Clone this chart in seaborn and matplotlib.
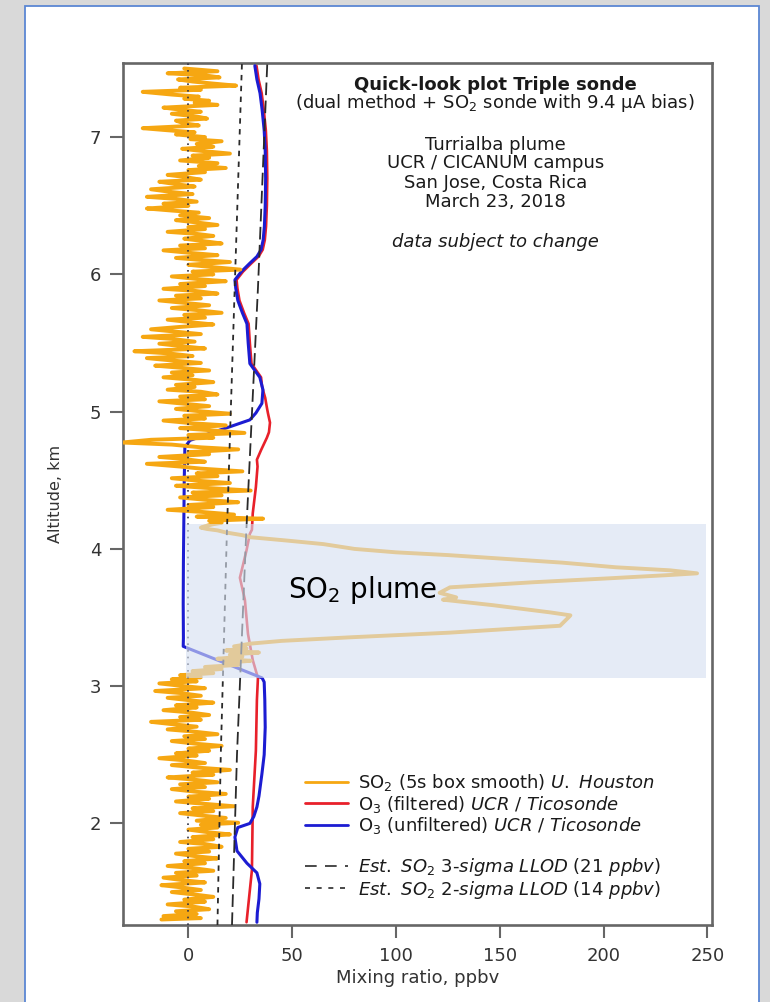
import matplotlib
matplotlib.use("Agg")
import matplotlib.pyplot as plt
from matplotlib.lines import Line2D
from matplotlib.patches import Rectangle
import seaborn as sns

# ---- SO2 sonde, 5 s box smooth (altitude km, mixing ratio ppbv) ----
so2_alt = [
    7.50, 7.48, 7.465, 7.45, 7.435, 7.42, 7.405, 7.39, 7.375, 7.36, 7.345, 7.33, 7.31, 7.295,
    7.28, 7.265, 7.25, 7.235, 7.215, 7.20, 7.185, 7.17, 7.15, 7.135, 7.12, 7.10, 7.085, 7.065,
    7.05, 7.035, 7.02, 7.00, 6.985, 6.97, 6.95, 6.93, 6.915, 6.90, 6.88, 6.865, 6.85, 6.83,
    6.81, 6.79, 6.775, 6.76, 6.745, 6.725, 6.71, 6.69, 6.675, 6.655, 6.64, 6.62, 6.60, 6.585,
    6.565, 6.55, 6.53, 6.515, 6.50, 6.48, 6.465, 6.45, 6.43, 6.41, 6.395, 6.38, 6.36, 6.345,
    6.33, 6.31, 6.295, 6.28, 6.26, 6.245, 6.225, 6.21, 6.19, 6.175, 6.155, 6.14, 6.12, 6.105,
    6.09, 6.07, 6.055, 6.035, 6.02, 6.00, 5.985, 5.965, 5.95, 5.93, 5.915, 5.895, 5.88, 5.86,
    5.845, 5.825, 5.81, 5.79, 5.775, 5.755, 5.74, 5.72, 5.705, 5.685, 5.67, 5.65, 5.635, 5.615,
    5.60, 5.58, 5.565, 5.545, 5.53, 5.51, 5.495, 5.475, 5.46, 5.44, 5.425, 5.405, 5.39, 5.37,
    5.355, 5.335, 5.32, 5.30, 5.285, 5.265, 5.25, 5.23, 5.215, 5.195, 5.18, 5.16, 5.145, 5.125,
    5.11, 5.09, 5.075, 5.055, 5.04, 5.02, 5.005, 4.985, 4.97, 4.95, 4.935, 4.915, 4.90, 4.88,
    4.865, 4.845, 4.83, 4.81, 4.795, 4.775, 4.76, 4.74, 4.725, 4.705, 4.69, 4.67, 4.655, 4.635,
    4.62, 4.60, 4.585, 4.565, 4.55, 4.53, 4.515, 4.495, 4.48, 4.46, 4.445, 4.425, 4.41, 4.39,
    4.375, 4.355, 4.34, 4.32, 4.305, 4.285, 4.27, 4.25, 4.235, 4.22, 4.205, 4.19,
    # plume
    4.18, 4.165, 4.155, 4.145, 4.135, 4.12, 4.10, 4.085, 4.06, 4.035, 4.00, 3.975, 3.955, 3.93,
    3.90, 3.866, 3.844, 3.822, 3.81, 3.786, 3.757, 3.72, 3.68, 3.647, 3.63, 3.59, 3.538, 3.516,
    3.50, 3.47, 3.44, 3.42, 3.39, 3.356, 3.33, 3.31, 3.29, 3.275, 3.26, 3.245, 3.23, 3.215,
    3.20, 3.185, 3.17, 3.155, 3.14, 3.125, 3.11, 3.095, 3.08, 3.065,
    # lower troposphere
    3.05, 3.035, 3.02, 3.00, 2.985, 2.965, 2.95, 2.93, 2.915, 2.895, 2.88, 2.86, 2.845, 2.825,
    2.81, 2.79, 2.775, 2.755, 2.74, 2.72, 2.705, 2.685, 2.67, 2.65, 2.635, 2.615, 2.60, 2.58,
    2.565, 2.545, 2.53, 2.51, 2.495, 2.475, 2.46, 2.44, 2.425, 2.405, 2.39, 2.37, 2.355, 2.335,
    2.32, 2.30, 2.285, 2.265, 2.25, 2.23, 2.215, 2.195, 2.18, 2.16, 2.145, 2.125, 2.11, 2.09,
    2.075, 2.055, 2.04, 2.02, 2.005, 1.99, 1.97, 1.955, 1.935, 1.92, 1.90, 1.885, 1.865, 1.85,
    1.83, 1.815, 1.795, 1.78, 1.76, 1.745, 1.725, 1.71, 1.69, 1.675, 1.655, 1.64, 1.62, 1.605,
    1.585, 1.57, 1.55, 1.535, 1.515, 1.50, 1.48, 1.465, 1.445, 1.43, 1.41, 1.395, 1.375, 1.36,
    1.34, 1.325, 1.31, 1.30,
]
so2_ppbv = [
    -2, 14, -10, 8, 15, -5, 2, 12, 23, -4, 6, -22, -8, 5,
    -2, 10, 3, 14, -12, -4, 6, -8, 4, 9, -6, -2, 5, -22,
    -10, 3, -6, 8, 1, 16, 4, 12, -3, 6, 20, 2, 10, -4,
    14, 5, 18, 0, 8, -10, -2, 6, -14, -5, 3, -18, -8, 2,
    -20, -6, 4, -12, 0, -20, -8, 5, -4, 10, -6, 3, 14, 0,
    8, -10, 4, 12, -2, 6, 16, -4, 8, -12, 2, 14, -6, 6,
    20, 0, 10, 25, 2, 12, -8, 5, 18, -4, 8, -12, 3, 14,
    -6, 6, -14, 0, 10, -8, 4, 16, -2, 8, -10, 2, 12, -6,
    -18, -4, 6, -22, -8, 3, -14, -2, 8, -26, -10, 2, -20, -6,
    6, -16, -4, 10, -8, 2, -12, 4, 12, -6, 3, -10, 6, 14,
    -4, 8, -14, 0, 10, -6, 4, 20, -2, 8, -12, 2, 18, -4,
    10, 27, 0, 12, -18, -32, -8, 6, 24, 0, 10, -14, -2, 8,
    -20, -4, 6, 26, 4, 14, -8, 6, 20, -6, 8, 30, 2, 16,
    -4, 10, 24, 0, 12, -10, 6, 22, 4, 36, 10, 16,
    # plume
    12, 8, 6, 9, 14, 18, 26, 30, 48, 65, 80, 100, 125, 150,
    180, 206, 232, 245, 232, 203, 166, 126, 121, 129, 122.6, 146.7, 174, 184,
    183, 181, 179, 158, 126, 78, 45, 30, 22, 28, 18, 34, 20, 26,
    14, 30, 18, 24, 8, 16, 2, 12, -4, 6,
    # lower troposphere
    -8, 4, -14, -2, 8, -16, -4, 6, -10, 2, 12, -6, 4, -12,
    0, 10, -4, 6, -18, -6, 4, -10, 2, 14, -2, 8, -8, 4,
    16, 0, 10, -6, 4, -14, -2, 8, -8, 6, 20, 2, 12, -10,
    2, 14, -4, 8, -8, 4, 18, 0, 10, -6, 6, 22, 2, 12,
    -4, 8, 18, 4, 24, 6, 14, 0, 10, 20, 2, 12, -4, 8,
    16, 0, 10, -6, 4, 14, -2, 8, -10, 2, 12, -6, 4, -12,
    -2, 8, -13, -4, 6, -8, 4, 12, -2, 8, -10, 2, 10, -6,
    4, -12, 6, -13,
]

# ---- O3, unfiltered (UCR / Ticosonde) ----
o3_unf_alt = [
    7.52, 7.42, 7.32, 7.20, 7.05, 6.90, 6.70, 6.50, 6.35, 6.25, 6.18, 6.13, 6.08, 6.02,
    5.96, 5.90, 5.81, 5.72, 5.64, 5.50, 5.35, 5.25, 5.16, 5.06, 4.99, 4.94, 4.89, 4.84,
    4.79, 4.74, 4.50, 4.20, 3.90, 3.60, 3.35, 3.29, 3.06, 3.03, 2.90, 2.70, 2.50, 2.36,
    2.20, 2.12, 2.05, 2.00, 1.97, 1.90, 1.80, 1.71, 1.64, 1.56, 1.45, 1.35, 1.28,
]
o3_unf_ppbv = [
    32.0, 33.0, 34.5, 35.5, 36.5, 37.0, 37.2, 37.0, 36.6, 36.0, 35.0, 33.0, 29.5, 25.5,
    22.4, 22.8, 23.8, 26.0, 28.2, 28.8, 29.6, 34.4, 35.9, 35.4, 32.5, 29.6, 20.0, 10.0,
    0.7, -1.7, -2.0, -2.2, -2.4, -2.5, -2.4, -2.5, 35.5, 36.5, 36.8, 37.0, 36.5, 35.4,
    34.0, 33.0, 31.5, 29.6, 23.8, 22.4, 23.4, 28.2, 33.0, 34.4, 34.0, 33.2, 33.0,
]

# ---- O3, filtered (UCR / Ticosonde) ----
o3_filt_alt = [
    7.52, 7.42, 7.32, 7.20, 7.05, 6.90, 6.70, 6.50, 6.35, 6.25, 6.18, 6.13, 6.08, 6.02,
    5.96, 5.90, 5.81, 5.72, 5.64, 5.50, 5.35, 5.25, 5.18, 5.10, 5.03, 4.99, 4.92, 4.85,
    4.81, 4.72, 4.65, 4.60, 4.45, 4.26, 4.14, 4.11, 3.99, 3.79, 3.63, 3.38, 3.19, 3.06,
    2.90, 2.53, 2.12, 1.66, 1.28,
]
o3_filt_ppbv = [
    32.8, 33.8, 35.3, 36.3, 37.3, 37.8, 38.0, 37.8, 37.4, 36.8, 35.8, 33.8, 30.3, 26.3,
    23.2, 23.6, 24.6, 26.8, 29.0, 29.6, 30.4, 35.0, 35.5, 37.0, 37.8, 38.3, 39.3, 38.8,
    37.8, 35.0, 33.0, 33.3, 32.5, 31.0, 30.6, 29.6, 28.0, 24.8, 27.2, 28.7, 31.0, 33.5,
    33.0, 32.5, 31.0, 30.6, 28.0,
]

# ---- Estimated SO2 lower limits of detection ----
llod_alt = [1.26, 2.5, 4.1, 5.9, 7.54]
llod_2sigma = [14.0, 15.6, 18.5, 22.3, 25.8]
llod_3sigma = [21.0, 23.4, 27.8, 33.5, 38.0]
zero_line = [0.0, 0.0]
zero_alt = [1.26, 7.54]

# plume layer (altitude band and x extent, ppbv)
plume_bottom, plume_top = 3.06, 4.18
plume_left, plume_right = -1.2, 249.3

x_ticks = [0, 50, 100, 150, 200, 250]
y_ticks = [2, 3, 4, 5, 6, 7]

ORANGE = "#f6a712"
RED = "#e8202a"
BLUE = "#1c1cd2"
GREY = "#666666"

sns.set_theme(style="ticks")
plt.rcParams["font.family"] = ["DejaVu Sans"]
plt.rcParams["mathtext.fontset"] = "dejavusans"

fig = plt.figure(figsize=(7.7, 10.02), dpi=100, facecolor="#d9d9d9")
panel = Rectangle((25 / 770, -0.02), (759 - 25) / 770, 1 - 6 / 1002 + 0.02,
                  transform=fig.transFigure, facecolor="white",
                  edgecolor="#5b87d3", lw=1.3, zorder=-10)
fig.patches.append(panel)

ax = fig.add_axes([123 / 770, 1 - 925 / 1002, (712 - 123) / 770, (925 - 63) / 1002])
ax.set_zorder(1)
ax.set_facecolor("white")

sns.lineplot(x=o3_filt_ppbv, y=o3_filt_alt, sort=False, estimator=None,
             color=RED, lw=1.9, ax=ax, zorder=2)
sns.lineplot(x=o3_unf_ppbv, y=o3_unf_alt, sort=False, estimator=None,
             color=BLUE, lw=2.2, ax=ax, zorder=3)
sns.lineplot(x=so2_ppbv, y=so2_alt, sort=False, estimator=None,
             color=ORANGE, lw=2.8, ax=ax, zorder=4)
sns.lineplot(x=zero_line, y=zero_alt, sort=False, estimator=None,
             color="#333344", lw=1.2, linestyle=(0, (1, 3)), ax=ax, zorder=5)
sns.lineplot(x=llod_2sigma, y=llod_alt, sort=False, estimator=None,
             color="#2a2a2a", lw=1.3, linestyle=(0, (3, 3)), ax=ax, zorder=5)
sns.lineplot(x=llod_3sigma, y=llod_alt, sort=False, estimator=None,
             color="#2a2a2a", lw=1.3, linestyle=(0, (7, 3)), ax=ax, zorder=5)

# shaded plume layer
ax.add_patch(Rectangle((plume_left, plume_bottom), plume_right - plume_left,
                       plume_top - plume_bottom, facecolor="#d6e0f1", alpha=0.62,
                       edgecolor="none", zorder=6))
ax.text(48, 3.64, r"SO$_2$ plume", fontsize=20, color="black", ha="left",
        va="baseline", zorder=7)

ax.set_xlim(-31.5, 252.2)
ax.set_ylim(1.26, 7.54)
ax.set_xticks(x_ticks)
ax.set_yticks(y_ticks)
ax.set_xticklabels([str(t) for t in x_ticks])
ax.set_yticklabels([str(t) for t in y_ticks])

for side in ["left", "right", "top", "bottom"]:
    ax.spines[side].set_visible(True)
    ax.spines[side].set_color(GREY)
    ax.spines[side].set_linewidth(1.9)
ax.tick_params(axis="both", which="major", direction="out", length=9.5, width=1.5,
               color=GREY, labelsize=13, labelcolor="#333333", pad=6,
               top=False, right=False, left=True, bottom=True)

ax.set_xlabel("Mixing ratio, ppbv", fontsize=13, color="#333333", labelpad=3)
ax.set_ylabel("Altitude, km", fontsize=11.5, color="#333333")
ax.yaxis.set_label_coords(-0.102, 0.5)

# header block
cx = 0.632
ax.text(cx, 0.9745, "Quick-look plot Triple sonde", transform=ax.transAxes,
        ha="center", va="center", fontsize=13, fontweight="bold", color="#1a1a1a")
ax.text(cx, 0.9536, r"(dual method + SO$_2$ sonde with 9.4 µA bias)", transform=ax.transAxes,
        ha="center", va="center", fontsize=13, color="#1a1a1a")
for yy, line in [(0.9049, "Turrialba plume"), (0.8840, "UCR / CICANUM campus"),
                 (0.8608, "San Jose, Costa Rica"), (0.8388, "March 23, 2018")]:
    ax.text(cx, yy, line, transform=ax.transAxes, ha="center", va="center",
            fontsize=13, color="#1a1a1a")
ax.text(cx, 0.7923, "data subject to change", transform=ax.transAxes, ha="center",
        va="center", fontsize=13, style="italic", color="#1a1a1a")

handles = [
    Line2D([], [], color=ORANGE, lw=2.0),
    Line2D([], [], color=RED, lw=2.0),
    Line2D([], [], color=BLUE, lw=2.0),
    Line2D([], [], color="none", lw=0),
    Line2D([], [], color="#2a2a2a", lw=1.2, linestyle=(0, (7, 5))),
    Line2D([], [], color="#2a2a2a", lw=1.2, linestyle=(0, (3, 4))),
]
labels = [
    r"SO$_2$ (5s box smooth) $\it{U.\ Houston}$",
    r"O$_3$ (filtered) $\it{UCR\ /\ Ticosonde}$",
    r"O$_3$ (unfiltered) $\it{UCR\ /\ Ticosonde}$",
    " ",
    r"$\it{Est.\ SO_2\ 3}$-$\it{sigma\ LLOD\ (21\ ppbv)}$",
    r"$\it{Est.\ SO_2\ 2}$-$\it{sigma\ LLOD\ (14\ ppbv)}$",
]
leg = ax.legend(handles, labels, loc="upper left", bbox_to_anchor=(0.309, 0.1775),
                frameon=False, fontsize=13, handlelength=2.4, handletextpad=0.55,
                labelspacing=0.04, borderpad=0, borderaxespad=0)
for t in leg.get_texts():
    t.set_color("#1a1a1a")

fig.savefig("out.png", dpi=100, facecolor=fig.get_facecolor())
